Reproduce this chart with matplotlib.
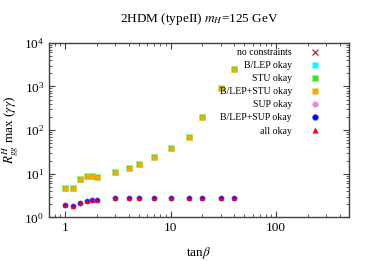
import matplotlib
matplotlib.use("Agg")
import matplotlib.pyplot as plt
import numpy as np

plt.rcParams['font.family'] = ['Liberation Serif', 'DejaVu Serif']
plt.rcParams['mathtext.fontset'] = 'stix'

# tan(beta) scan points
tanb = [1, 1.2, 1.4, 1.6, 1.8, 2, 3, 4, 5, 7, 10, 15, 20, 30, 40]
# max R_gg^H for points passing B/LEP + STU (squares)
r_stu = [4.6, 4.6, 7.7, 8.7, 9.1, 8.5, 11.1, 13.7, 16.7, 24.5, 38, 68, 196, 900, 2500]
# max R_gg^H for points passing SUP (circles / triangles)
r_sup = [1.9, 1.85, 2.16, 2.33, 2.45, 2.54, 2.73, 2.75, 2.76, 2.76, 2.76, 2.76, 2.76, 2.76, 2.76]

fig = plt.figure(figsize=(3.74, 2.61), dpi=100)
ax = fig.add_axes([0.131, 0.167, 0.802, 0.669])

ax.plot([], [], 'x', color='#b03030', ms=3.5, mew=0.9, label='no constraints')
ax.plot(tanb, r_stu, 's', color='cyan', ms=3.8, mec='none', label='B/LEP okay')
ax.plot(tanb, r_stu, 's', color='#22ee22', ms=3.8, mec='#b8e890', mew=0.6, label='STU okay')
ax.plot(tanb, r_stu, 's', color='orange', ms=3.6, mec='none', label='B/LEP+STU okay')
ax.plot(tanb, r_sup, 'o', color='violet', ms=3.8, mec='none', label='SUP okay')
ax.plot(tanb, r_sup, 'o', color='blue', ms=3.8, mec='#8080ff', mew=0.5, label='B/LEP+SUP okay')
ax.plot(tanb, r_sup, '^', color='red', ms=3.4, mec='none', label='all okay')

ax.set_xscale('log')
ax.set_yscale('log')
ax.set_xlim(0.705, 490)
ax.set_ylim(1, 1e4)

for s in ax.spines.values():
    s.set_color('#404040')
    s.set_linewidth(1.0)
ax.tick_params(which='both', direction='in', top=True, right=True, labelsize=9.5, color='#404040')
ax.tick_params(which='major', length=4)
ax.tick_params(which='minor', length=2)
ax.set_xticks([1, 10, 100])
ax.set_xticklabels(['1', '10', '100'])

ax.set_xlabel(r'tan$\beta$', fontsize=9.5, labelpad=8)
ax.set_ylabel(r'$R^H_{gg}$ max ($\gamma\gamma$)', fontsize=9.5, labelpad=2)
ax.set_title(r'2HDM (typeII) $m_H$=125 GeV', fontsize=9.5, pad=15)

leg = ax.legend(loc='upper right', bbox_to_anchor=(0.93, 1.02), frameon=False, markerfirst=False,
                fontsize=7, handlelength=0.8, handletextpad=2.0, labelspacing=0.42, numpoints=1,
                markerscale=1.15)

fig.savefig('out.png', dpi=100)
